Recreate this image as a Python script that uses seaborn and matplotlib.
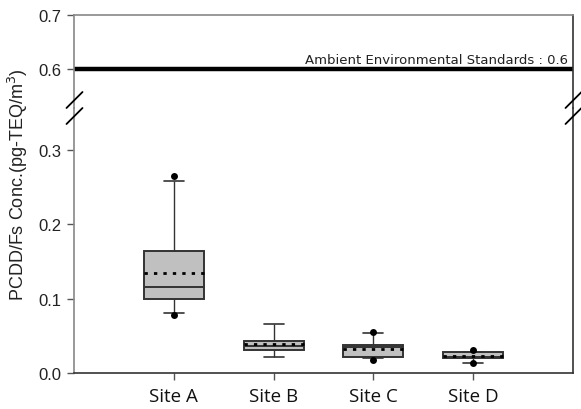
import matplotlib
matplotlib.use("Agg")
import matplotlib.pyplot as plt
import seaborn as sns
import pandas as pd

sites = ["Site A", "Site B", "Site C", "Site D"]
whisker_low = [0.080, 0.0221, 0.0200, 0.0130]
q1 = [0.0995, 0.0315, 0.0213, 0.0200]
median = [0.115, 0.0357, 0.0350, 0.0220]
q3 = [0.1638, 0.0425, 0.0370, 0.0280]
whisker_high = [0.258, 0.0656, 0.0543, 0.0280]
means = [0.134, 0.039, 0.0326, 0.0235]
dot_sites = ["Site A", "Site A", "Site C", "Site C", "Site D", "Site D"]
dot_vals = [0.264, 0.0778, 0.0545, 0.0180, 0.031, 0.0130]
standard_value = 0.6
standard_label = "Ambient Environmental Standards : 0.6"
ylabel = "PCDD/Fs Conc.(pg-TEQ/m$^3$)"

sns.set_theme(style="white")
plt.rcParams["font.family"] = ["Liberation Sans", "DejaVu Sans"]

rows = []
for i, s in enumerate(sites):
    for v in (whisker_low[i], q1[i], median[i], q3[i], whisker_high[i]):
        rows.append({"site": s, "value": v})
df = pd.DataFrame(rows)

W, H = 581, 410
fig = plt.figure(figsize=(W / 100, H / 100), dpi=100)
left, right = 74 / W, 573 / W
top_y, brk_y, bot_y = 16, 109, 374
ax_top = fig.add_axes([left, 1 - brk_y / H, right - left, (brk_y - top_y) / H])
ax = fig.add_axes([left, 1 - bot_y / H, right - left, (bot_y - brk_y) / H])

edge = "#333333"
sns.boxplot(data=df, x="site", y="value", order=sites, whis=(0, 100), width=0.6,
            color="#c0c0c0", saturation=1, linewidth=1.4, linecolor=edge,
            showfliers=False, ax=ax,
            boxprops=dict(edgecolor=edge, facecolor="#c0c0c0"),
            medianprops=dict(color=edge, linewidth=1.4),
            whiskerprops=dict(color=edge, linewidth=1.0),
            capprops=dict(color=edge, linewidth=1.2),
            capwidths=0.2)
pos = [sites.index(s) for s in sites]
ax.hlines(means, [p - 0.3 for p in pos], [p + 0.3 for p in pos],
          colors="black", linestyles=(0, (1.2, 2.2)), linewidth=2, zorder=5)
sns.stripplot(x=dot_sites, y=dot_vals, order=sites, jitter=False, color="black",
              size=5, ax=ax, zorder=6)

ax.set_xlim(-1, 4)
ax.set_ylim(0, 0.356)
ax.set_yticks([0.0, 0.1, 0.2, 0.3])
ax.set_yticklabels(["0.0", "0.1", "0.2", "0.3"])
ax.set_xlabel("")
ax.set_ylabel("")
ax.tick_params(axis="y", left=True, length=5, width=1, color="#555555",
               labelsize=12, pad=4, labelcolor="#222222")
ax.tick_params(axis="x", bottom=True, length=5, width=1, color="#555555",
               labelsize=13.5, pad=5, labelcolor="#111111")
for lab in ax.get_xticklabels():
    lab.set_fontfamily(["Open Sans", "DejaVu Sans"])

ax_top.set_xlim(-1, 4)
ax_top.set_ylim(0.529, 0.7)
ax_top.set_yticks([0.6, 0.7])
ax_top.set_yticklabels(["0.6", "0.7"])
ax_top.set_xticks([])
ax_top.tick_params(axis="y", left=True, length=5, width=1, color="#555555",
                   labelsize=12, pad=4, labelcolor="#222222")
ax_top.axhline(standard_value, color="black", linewidth=3.2)
ax_top.text(3.95, standard_value + 0.006, standard_label, ha="right", va="bottom",
            fontsize=9.5, color="#222222", family=["DejaVu Sans"])

for a in (ax, ax_top):
    a.patch.set_alpha(0)
    for sp in a.spines.values():
        sp.set_linewidth(1.2)
ax_top.spines["bottom"].set_visible(False)
ax.spines["top"].set_visible(False)
ax.spines["left"].set_color("#888888")
ax_top.spines["left"].set_color("#888888")
ax_top.spines["top"].set_color("#888888")
ax.spines["bottom"].set_color("#333333")
ax.spines["right"].set_color("#333333")
ax_top.spines["right"].set_color("#333333")

# break marks
for xc in (74, 573):
    for yc in (101, 117):
        x0, x1 = (xc - 7.5) / W, (xc + 8.5) / W
        y0, y1 = 1 - (yc + 8) / H, 1 - (yc - 8) / H
        fig.add_artist(plt.Line2D([x0, x1], [y0, y1], color="black", linewidth=1.3,
                                  transform=fig.transFigure))

fig.text(18 / W, 1 - 185 / H, ylabel, rotation=90, ha="center", va="center",
         fontsize=13, color="#222222")

fig.savefig("out.png", dpi=100)
